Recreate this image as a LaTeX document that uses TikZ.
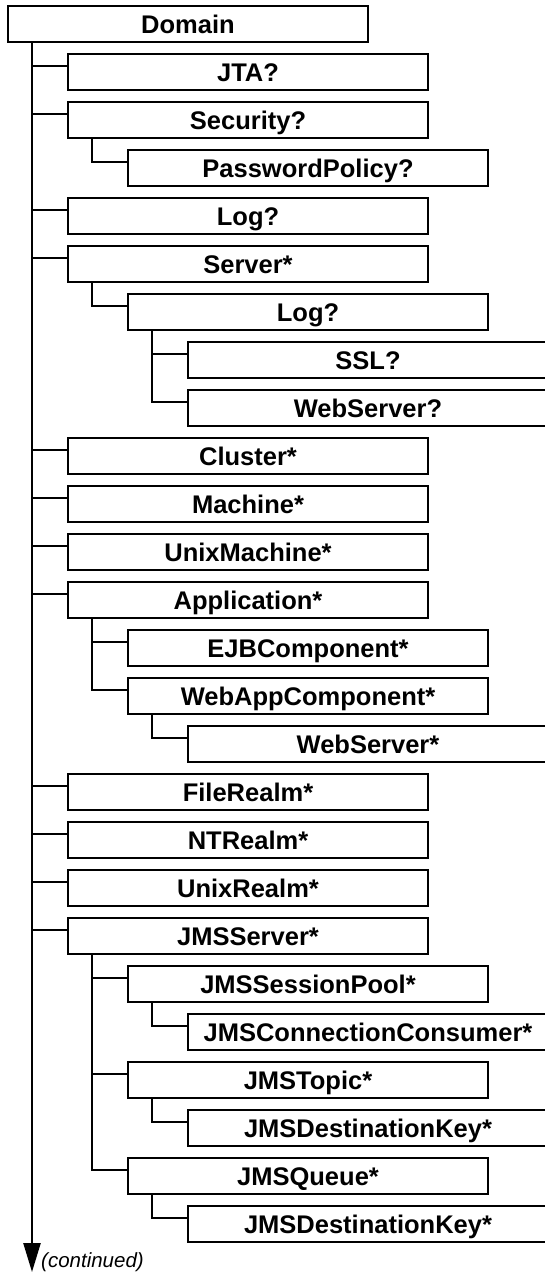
\documentclass[tikz,border=0pt]{standalone}
\usepackage{fontspec}
\setmainfont{Liberation Sans}
\usetikzlibrary{arrows.meta}
\newcommand\mybranch[2]{\draw[link] ([xshift=24pt]#1.south west) |- ([yshift=-12pt]#2.north west);}
\begin{document}
\begin{tikzpicture}[x=1pt,y=-1pt,
  elem/.style={draw, line width=2.5pt, minimum width=360pt, minimum height=36pt,
    inner sep=0pt, outer sep=0pt, text height=18.3pt, text depth=0pt,
    font=\fontsize{25.5}{30}\selectfont\bfseries, anchor=north west},
  link/.style={line width=2.5pt},
]
\useasboundingbox (0,0) rectangle (545,1272);
\clip (0,0) rectangle (545,1272);
\node[elem] (dom) at (8,6) {Domain};
\node[elem] (jta) at (68,54) {JTA?};
\node[elem] (sec) at (68,102) {Security?};
\node[elem] (pwd) at (128,150) {PasswordPolicy?};
\node[elem] (log) at (68,198) {Log?};
\node[elem] (srv) at (68,246) {Server*};
\node[elem] (slog) at (128,294) {Log?};
\node[elem] (ssl) at (188,342) {SSL?};
\node[elem] (ws) at (188,390) {WebServer?};
\node[elem] (clu) at (68,438) {Cluster*};
\node[elem] (mac) at (68,486) {Machine*};
\node[elem] (umac) at (68,534) {UnixMachine*};
\node[elem] (app) at (68,582) {Application*};
\node[elem] (ejb) at (128,630) {EJBComponent*};
\node[elem] (web) at (128,678) {WebAppComponent*};
\node[elem] (wws) at (188,726) {WebServer*};
\node[elem] (file) at (68,774) {FileRealm*};
\node[elem] (nt) at (68,822) {NTRealm*};
\node[elem] (unix) at (68,870) {UnixRealm*};
\node[elem] (jms) at (68,918) {JMSServer*};
\node[elem] (pool) at (128,966) {JMSSessionPool*};
\node[elem] (cc) at (188,1014) {JMSConnectionConsumer*};
\node[elem] (topic) at (128,1062) {JMSTopic*};
\node[elem] (tkey) at (188,1110) {JMSDestinationKey*};
\node[elem] (queue) at (128,1158) {JMSQueue*};
\node[elem] (qkey) at (188,1206) {JMSDestinationKey*};
\coordinate (tip) at (32,1272);
\draw[link, -{Triangle[length=29pt,width=17pt]}] ([xshift=24pt]dom.south west) -- (tip);
\node[font=\fontsize{20.5}{24}\selectfont\itshape, anchor=base west, inner sep=0pt] (cont) at (41,1267) {(continued)};
\mybranch{dom}{jta}
\mybranch{dom}{sec}
\mybranch{sec}{pwd}
\mybranch{dom}{log}
\mybranch{dom}{srv}
\mybranch{srv}{slog}
\mybranch{slog}{ssl}
\mybranch{slog}{ws}
\mybranch{dom}{clu}
\mybranch{dom}{mac}
\mybranch{dom}{umac}
\mybranch{dom}{app}
\mybranch{app}{ejb}
\mybranch{app}{web}
\mybranch{web}{wws}
\mybranch{dom}{file}
\mybranch{dom}{nt}
\mybranch{dom}{unix}
\mybranch{dom}{jms}
\mybranch{jms}{pool}
\mybranch{pool}{cc}
\mybranch{jms}{topic}
\mybranch{topic}{tkey}
\mybranch{jms}{queue}
\mybranch{queue}{qkey}
\end{tikzpicture}
\end{document}
